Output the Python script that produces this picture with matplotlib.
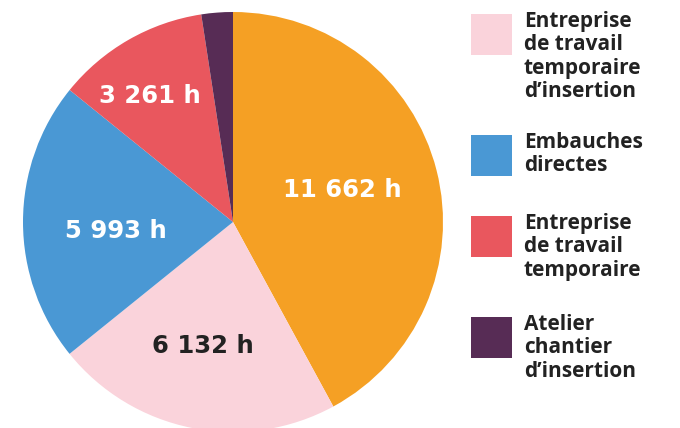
import numpy as np
import matplotlib.pyplot as plt
from matplotlib.patches import Rectangle

# slices, clockwise from the top
slice_names = ["Entreprise d'insertion", "Entreprise de travail temporaire d'insertion",
               "Embauches directes", "Entreprise de travail temporaire",
               "Atelier chantier d'insertion"]
hours = [11662, 6132, 5993, 3261, 670]
value_labels = ["11 662 h", "6 132 h", "5 993 h", "3 261 h", ""]
colors = ["#F5A024", "#FAD3DB", "#4A98D4", "#E9575E", "#572C55"]
label_colors = ["white", "#222222", "white", "white", "white"]

legend_labels = ["Entreprise\nde travail\ntemporaire\nd\u2019insertion",
                 "Embauches\ndirectes",
                 "Entreprise\nde travail\ntemporaire",
                 "Atelier\nchantier\nd\u2019insertion"]
legend_colors = ["#FAD3DB", "#4A98D4", "#E9575E", "#572C55"]

W, H = 680, 428
fig = plt.figure(figsize=(W / 100, H / 100), dpi=100)

# pie: centre (233, 222) px, radius 210 px
cx, cy, r = 233, 222, 210
ax = fig.add_axes([(cx - r) / W, (H - cy - r) / H, 2 * r / W, 2 * r / H])
wedges, _ = ax.pie(hours, colors=colors, startangle=90, counterclock=False,
                   wedgeprops=dict(linewidth=0))
ax.set_xlim(-1, 1)
ax.set_ylim(-1, 1)
ax.set_aspect("auto")
ax.axis("off")

# label distance from centre per slice, and small angle shifts
label_dist = [0.54, 0.61, 0.56, 0.72, 0.5]
angle_shift = [2.0, -2.5, 4.5, 3.5, 0]
for w, txt, col, d, da in zip(wedges, value_labels, label_colors, label_dist, angle_shift):
    if not txt:
        continue
    ang = np.deg2rad((w.theta1 + w.theta2) / 2 + da)
    ax.text(d * np.cos(ang), d * np.sin(ang), txt, color=col, ha="center", va="center",
            fontsize=17.5, fontweight="bold", family="DejaVu Sans")

# legend drawn in pixel coordinates
lax = fig.add_axes([0, 0, 1, 1])
lax.set_xlim(0, W)
lax.set_ylim(H, 0)
lax.axis("off")
box_tops = [14, 135, 216, 317]
for top, lab, col in zip(box_tops, legend_labels, legend_colors):
    lax.add_patch(Rectangle((471, top), 41, 41, facecolor=col, edgecolor="none"))
    lax.text(524, top - 3, lab, ha="left", va="top", fontsize=15, fontweight="bold",
             family="Open Sans", color="#222222", linespacing=1.15)

fig.savefig("out.png", dpi=100)
